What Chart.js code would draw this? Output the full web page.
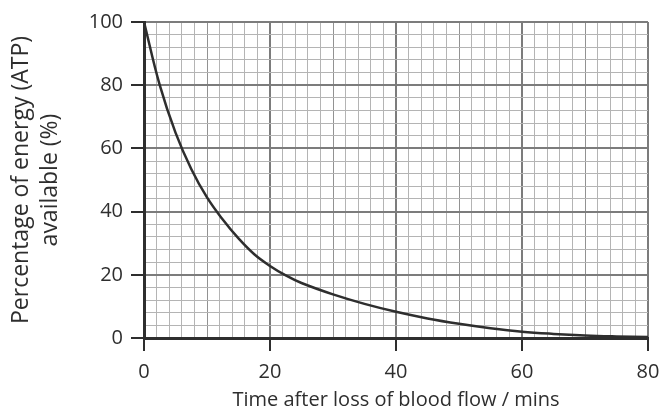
<!DOCTYPE html>
<html>
<head>
<meta charset="utf-8">
<script src="https://cdn.jsdelivr.net/npm/chart.js@4"></script>
<style>
  html, body { margin: 0; padding: 0; background: #fff; }
  #wrap { width: 663px; height: 416px; }
</style>
</head>
<body>
<div id="wrap"><canvas id="atp"></canvas></div>
<script>
// time after loss of blood flow (mins) and % ATP available
const times = [0, 2.5, 5, 7.5, 10, 12.5, 15, 17.5, 20, 22.5, 25, 30, 35, 40, 45, 50, 55, 60, 65, 70, 75, 80];
const atp = [100, 80, 65, 53.5, 44.5, 37.5, 31.5, 26.5, 22.8, 19.8, 17.4, 13.8, 10.8, 8.3, 6.2, 4.5, 3.1, 2.0, 1.3, 0.8, 0.5, 0.3];
const xTicks = [0, 20, 40, 60, 80];
const yTicks = [0, 20, 40, 60, 80, 100];

const font = { family: 'Open Sans', size: 20 };
const ink = '#2e2e2e';

function gridColour(v, major, mid) {
  if (major.includes(v)) return '#7c7c7c';
  if (mid && v % 10 === 0) return '#929292';
  return '#b4b4b4';
}

new Chart(document.getElementById('atp'), {
  type: 'line',
  data: {
    datasets: [{
      data: times.map((t, i) => ({ x: t, y: atp[i] })),
      borderColor: ink,
      borderWidth: 2.5,
      pointRadius: 0,
      tension: 0.4,
      fill: false
    }]
  },
  options: {
    responsive: true,
    maintainAspectRatio: false,
    animation: false,
    layout: { padding: { top: 22, right: 15, left: 0, bottom: 0 } },
    plugins: { legend: { display: false }, tooltip: { enabled: false } },
    scales: {
      x: {
        type: 'linear',
        min: 0,
        max: 80,
        afterFit: s => { s.height = 78; s.paddingRight = 0; s.paddingLeft = 0; },
        afterBuildTicks: s => { s.ticks = []; for (let v = 0; v <= 80; v += 2) s.ticks.push({ value: v }); },
        border: { color: ink, width: 3 },
        grid: {
          color: c => gridColour(c.tick.value, xTicks, true),
          lineWidth: c => xTicks.includes(c.tick.value) ? 2 : 1,
          tickColor: c => xTicks.includes(c.tick.value) ? ink : 'rgba(0,0,0,0)',
          tickLength: 13,
          tickWidth: 2
        },
        ticks: {
          autoSkip: false,
          maxRotation: 0,
          padding: 9,
          color: ink,
          font: font,
          callback: v => xTicks.includes(v) ? v : ''
        },
        title: {
          display: true,
          text: 'Time after loss of blood flow / mins',
          color: ink,
          font: font,
          padding: { top: 2 }
        }
      },
      y: {
        min: 0,
        max: 100,
        afterFit: s => { s.width = 144; },
        afterBuildTicks: s => { s.ticks = []; for (let v = 0; v <= 100; v += 4) s.ticks.push({ value: v }); },
        border: { color: ink, width: 3 },
        grid: {
          color: c => gridColour(c.tick.value, yTicks, false),
          lineWidth: c => yTicks.includes(c.tick.value) ? 2 : 1,
          tickColor: c => yTicks.includes(c.tick.value) ? ink : 'rgba(0,0,0,0)',
          tickLength: 13,
          tickWidth: 2
        },
        ticks: {
          autoSkip: false,
          padding: 8,
          color: ink,
          font: font,
          callback: v => yTicks.includes(v) ? v : ''
        },
        title: {
          display: true,
          text: ['Percentage of energy (ATP)', 'available (%)'],
          color: ink,
          font: { family: 'Open Sans', size: 23, lineHeight: 1.25 },
          padding: { top: 7, bottom: 0 }
        }
      }
    }
  }
});
</script>
</body>
</html>
